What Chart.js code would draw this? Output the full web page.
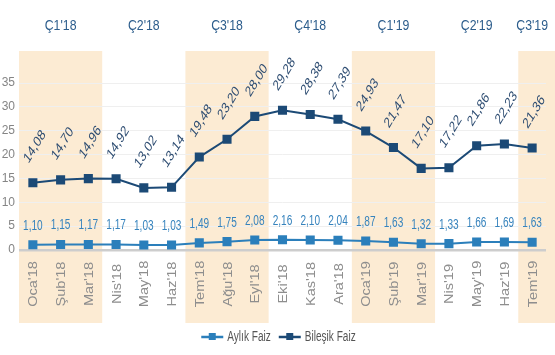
<!DOCTYPE html>
<html><head><meta charset="utf-8">
<script src="https://cdn.jsdelivr.net/npm/chart.js@4/dist/chart.umd.min.js"></script>
<style>html,body{margin:0;padding:0;background:#fff}#c{display:block}</style>
</head><body>
<canvas id="c" width="555" height="355"></canvas>
<script>
const categories = ["Oca'18","Şub'18","Mar'18","Nis'18","May'18","Haz'18","Tem'18","Ağu'18","Eyl'18","Eki'18","Kas'18","Ara'18","Oca'19","Şub'19","Mar'19","Nis'19","May'19","Haz'19","Tem'19"];
const aylikFaiz = [1.10,1.15,1.17,1.17,1.03,1.03,1.49,1.75,2.08,2.16,2.10,2.04,1.87,1.63,1.32,1.33,1.66,1.69,1.63];
const bilesikFaiz = [14.08,14.70,14.96,14.92,13.02,13.14,19.48,23.20,28.00,29.28,28.38,27.39,24.93,21.47,17.10,17.22,21.86,22.23,21.36];
const quarterLabels = ["Ç1'18","Ç2'18","Ç3'18","Ç4'18","Ç1'19","Ç2'19","Ç3'19"];
const shadedQuarters = [0,2,4,6];
const seriesNames = ["Aylık Faiz","Bileşik Faiz"];

const C_AYLIK = '#2b7fbb';
const C_BILESIK = '#1c4a76';
const BAND = '#fcebd3';
const FONT = '"Liberation Sans", Arial, sans-serif';

function fmt(v){ return v.toFixed(2).replace('.', ','); }

const decorPlugin = {
  id: 'decor',
  beforeDraw(chart){
    const ctx = chart.ctx, x = chart.scales.x, ca = chart.chartArea;
    const step = x.getPixelForValue(1) - x.getPixelForValue(0);
    const top = ca.top - 32, bottom = x.bottom;
    ctx.save();
    ctx.fillStyle = BAND;
    shadedQuarters.forEach(q => {
      const a = q*3, b = Math.min(q*3+2, categories.length-1);
      const left = x.getPixelForValue(a) - step/2;
      let right = x.getPixelForValue(b) + step/2;
      if (q*3+2 > categories.length-1) right = chart.width;
      ctx.fillRect(left, top, right-left, bottom-top);
    });
    ctx.fillStyle = '#2c5d8c';
    ctx.font = '15px ' + FONT;
    ctx.textAlign = 'center'; ctx.textBaseline = 'middle';
    quarterLabels.forEach((lab, q) => {
      const a = q*3, b = Math.min(q*3+2, categories.length-1);
      const cx = (x.getPixelForValue(a) + x.getPixelForValue(b))/2;
      ctx.save(); ctx.translate(cx, 26); ctx.scale(0.82,1);
      ctx.fillText(lab, 0, 0); ctx.restore();
    });
    ctx.fillStyle = '#8e8e8e';
    ctx.font = '13px ' + FONT;
    categories.forEach((lab, i) => {
      const px = x.getPixelForValue(i);
      ctx.save(); ctx.translate(px+1, 284); ctx.rotate(-Math.PI/2); ctx.scale(1.12,1);
      ctx.textAlign = 'center'; ctx.textBaseline = 'middle';
      ctx.fillText(lab, 0, 0); ctx.restore();
    });
    ctx.restore();
  },
  afterDatasetsDraw(chart){
    const ctx = chart.ctx;
    ctx.save();
    ctx.textAlign = 'center'; ctx.textBaseline = 'middle';
    const m0 = chart.getDatasetMeta(0);
    ctx.fillStyle = '#3683bd';
    ctx.font = '14px ' + FONT;
    m0.data.forEach((pt, i) => {
      ctx.save(); ctx.translate(pt.x, pt.y - 19); ctx.scale(0.72,1);
      ctx.fillText(fmt(aylikFaiz[i]), 0, 0); ctx.restore();
    });
    const m1 = chart.getDatasetMeta(1);
    ctx.fillStyle = '#2e4d72';
    ctx.font = '15px ' + FONT;
    m1.data.forEach((pt, i) => {
      ctx.save(); ctx.translate(pt.x + 2, pt.y - 36); ctx.scale(0.75,1); ctx.rotate(-51*Math.PI/180);
      ctx.fillText(fmt(bilesikFaiz[i]), 0, 0); ctx.restore();
    });
    ctx.restore();
  },
  afterDraw(chart){
    // legend (narrow text like the reference)
    const ctx = chart.ctx;
    const sx = 0.72, markW = 22, gap = 4, itemGap = 8, y = 337;
    ctx.save();
    ctx.font = '14px ' + FONT;
    ctx.textBaseline = 'middle'; ctx.textAlign = 'left';
    const ds = chart.data.datasets;
    const widths = ds.map(d => markW + gap + ctx.measureText(d.label).width * sx);
    const total = widths.reduce((a,b)=>a+b,0) + itemGap*(ds.length-1);
    let xp = chart.width/2 - total/2 + 1;
    ds.forEach((d, i) => {
      ctx.strokeStyle = d.borderColor; ctx.lineWidth = 2.5;
      ctx.beginPath(); ctx.moveTo(xp, y); ctx.lineTo(xp+markW, y); ctx.stroke();
      ctx.fillStyle = d.borderColor;
      ctx.fillRect(xp + markW/2 - 3.5, y - 4, 7, 7);
      ctx.fillStyle = '#555';
      ctx.save(); ctx.translate(xp + markW + gap, y); ctx.scale(sx, 1);
      ctx.fillText(d.label, 0, 0); ctx.restore();
      xp += widths[i] + itemGap;
    });
    ctx.restore();
  }
};

new Chart(document.getElementById('c'), {
  type: 'line',
  data: {
    labels: categories,
    datasets: [
      { label: seriesNames[0], data: aylikFaiz, borderColor: C_AYLIK, backgroundColor: C_AYLIK,
        borderWidth: 2, pointStyle: 'rect', pointRadius: 5, pointHoverRadius: 5, tension: 0 },
      { label: seriesNames[1], data: bilesikFaiz, borderColor: C_BILESIK, backgroundColor: C_BILESIK,
        borderWidth: 2, pointStyle: 'rect', pointRadius: 5, pointHoverRadius: 5, tension: 0 }
    ]
  },
  options: {
    responsive: false,
    animation: false,
    layout: { padding: { top: 83, right: 9, left: 0, bottom: 32 } },
    plugins: {
      tooltip: { enabled: false },
      legend: { display: false }
    },
    scales: {
      x: {
        offset: true,
        grid: { display: false },
        border: { display: false },
        ticks: { display: false },
        afterFit(s){ s.height = 73; }
      },
      y: {
        min: 0, max: 35,
        border: { display: false },
        ticks: { stepSize: 5, color: '#858585', padding: 4, font: { family: FONT, size: 12 } },
        grid: {
          drawTicks: false,
          color: c => c.tick && c.tick.value === 0 ? '#cdcdcd' : '#efefef',
          lineWidth: c => c.tick && c.tick.value === 0 ? 2.5 : 1
        },
        afterFit(s){ s.width = 19; }
      }
    }
  },
  plugins: [decorPlugin]
});
</script>
</body></html>
